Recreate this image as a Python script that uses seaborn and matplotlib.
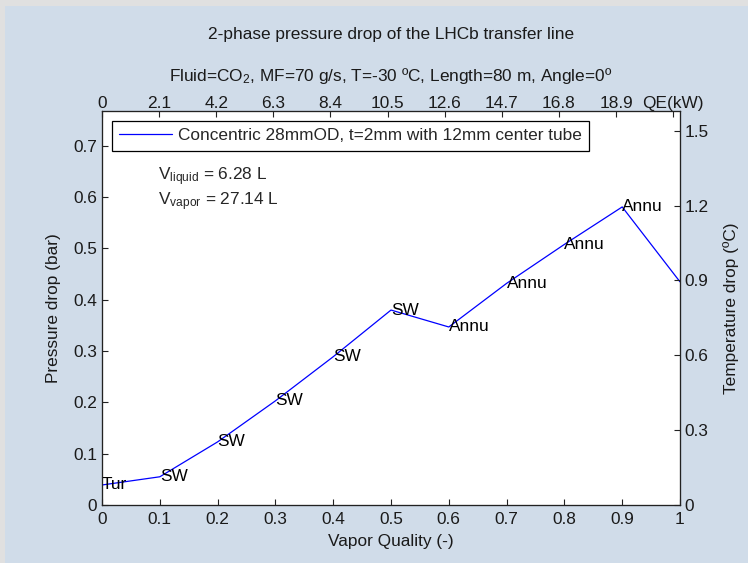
import matplotlib
matplotlib.use("Agg")
import matplotlib.pyplot as plt
from matplotlib.patches import Rectangle
import seaborn as sns
import pandas as pd

# ---- data ----
quality = [0.0, 0.1, 0.2, 0.3, 0.4, 0.5, 0.6, 0.7, 0.8, 0.9, 1.0]
pressure_drop = [0.039, 0.055, 0.123, 0.203, 0.289, 0.380, 0.347, 0.432, 0.508, 0.581, 0.435]
regimes = ["Tur", "SW", "SW", "SW", "SW", "SW", "Annu", "Annu", "Annu", "Annu"]
qe_ticks = [0, 2.1, 4.2, 6.3, 8.4, 10.5, 12.6, 14.7, 16.8, 18.9, 21.0]
qe_labels = ["0", "2.1", "4.2", "6.3", "8.4", "10.5", "12.6", "14.7", "16.8", "18.9", "QE(kW)"]
temp_ticks = [0, 0.3, 0.6, 0.9, 1.2, 1.5]
left_ticks = [0, 0.1, 0.2, 0.3, 0.4, 0.5, 0.6, 0.7]
bottom_ticks = [0, 0.1, 0.2, 0.3, 0.4, 0.5, 0.6, 0.7, 0.8, 0.9, 1.0]
legend_label = "Concentric 28mmOD, t=2mm with 12mm center tube"

sns.set_style("ticks")
plt.rcParams["font.family"] = ["Liberation Sans", "DejaVu Sans"]
plt.rcParams["mathtext.fontset"] = "custom"
plt.rcParams["mathtext.rm"] = "Liberation Sans"
plt.rcParams["mathtext.it"] = "Liberation Sans"
plt.rcParams["mathtext.default"] = "regular"

FS = 12.4
W, H = 748, 563
fig = plt.figure(figsize=(W / 100, H / 100), dpi=100)
fig.patch.set_facecolor("#E0E0E0")
fig.patches.append(Rectangle((5 / W, 0), 1 - 5 / W, 1 - 6 / H, transform=fig.transFigure,
                             facecolor="#D0DCE9", edgecolor="none", zorder=-10))

ax = fig.add_axes([102 / W, 1 - 505 / H, (680 - 102) / W, (505 - 111) / H])
ax.set_facecolor("white")

df = pd.DataFrame({"quality": quality, "dp": pressure_drop})
sns.lineplot(data=df, x="quality", y="dp", ax=ax, color="#0000FF", linewidth=0.9,
             label=legend_label, sort=False)

for xq, yq, r in zip(quality, pressure_drop, regimes):
    ax.text(xq, yq, r, ha="left", va="center", fontsize=FS, color="black", clip_on=False)

ax.set_xlim(0, 1)
ax.set_ylim(0, 0.768)
ax.set_xticks(bottom_ticks)
ax.set_xticklabels([f"{v:g}" for v in bottom_ticks])
ax.set_yticks(left_ticks)
ax.set_yticklabels([f"{v:g}" for v in left_ticks])
ax.tick_params(axis="x", direction="in", length=4, width=0.8, labelsize=FS, pad=5.0, colors="#222222")
ax.tick_params(axis="y", direction="in", length=4, width=0.8, labelsize=FS, pad=3.6, colors="#222222")
ax.tick_params(labelcolor="#1a1a1a")
ax.set_xlabel("Vapor Quality (-)", fontsize=FS, color="#1a1a1a")
ax.set_ylabel("Pressure drop (bar)", fontsize=FS, color="#1a1a1a")
ax.xaxis.set_label_coords(0.5, -0.074)
ax.yaxis.set_label_coords(-0.071, 0.5)

for s in ax.spines.values():
    s.set_color("#222222")
    s.set_linewidth(0.8)

# right axis: temperature drop
ax2 = ax.twinx()
ax2.set_ylim(0, 1.579)
ax2.set_yticks(temp_ticks)
ax2.set_yticklabels([f"{v:g}" for v in temp_ticks])
ax2.tick_params(axis="y", direction="in", length=4, width=0.8, labelsize=FS, pad=3.4,
                colors="#222222", labelcolor="#1a1a1a")
ax2.set_ylabel("Temperature drop (ºC)", fontsize=FS, color="#1a1a1a")
ax2.yaxis.set_label_coords(1.0744, 0.5)
for s in ax2.spines.values():
    s.set_color("#222222")
    s.set_linewidth(0.8)

# top axis: heat load
ax3 = ax.twiny()
ax3.set_xlim(0, 21.25)
ax3.set_xticks(qe_ticks)
ax3.set_xticklabels(qe_labels)
ax3.tick_params(axis="x", direction="in", length=4, width=0.8, labelsize=FS, pad=0.0,
                colors="#222222", labelcolor="#1a1a1a")
for s in ax3.spines.values():
    s.set_color("#222222")
    s.set_linewidth(0.8)

leg = ax.legend(loc="upper left", bbox_to_anchor=(0.0168, 0.9746), borderaxespad=0,
                fontsize=FS, frameon=True, fancybox=False, edgecolor="black",
                framealpha=1, handlelength=3.1, handletextpad=0.35, borderpad=0.42)
leg.get_frame().set_linewidth(0.9)

ax.text(0.0974, 0.825, "V$_{liquid}$ = 6.28 L", transform=ax.transAxes, fontsize=FS,
        ha="left", va="baseline")
ax.text(0.0974, 0.761, "V$_{vapor}$ = 27.14 L", transform=ax.transAxes, fontsize=FS,
        ha="left", va="baseline")

fig.text(391 / W, 1 - 35 / H, "2-phase pressure drop of the LHCb transfer line",
         ha="center", va="center", fontsize=FS, color="#1a1a1a")
fig.text(391 / W, 1 - 76 / H, "Fluid=CO$_2$, MF=70 g/s, T=-30 ºC, Length=80 m, Angle=0º",
         ha="center", va="center", fontsize=FS, color="#1a1a1a")

fig.savefig("out.png", dpi=100, facecolor=fig.get_facecolor())
